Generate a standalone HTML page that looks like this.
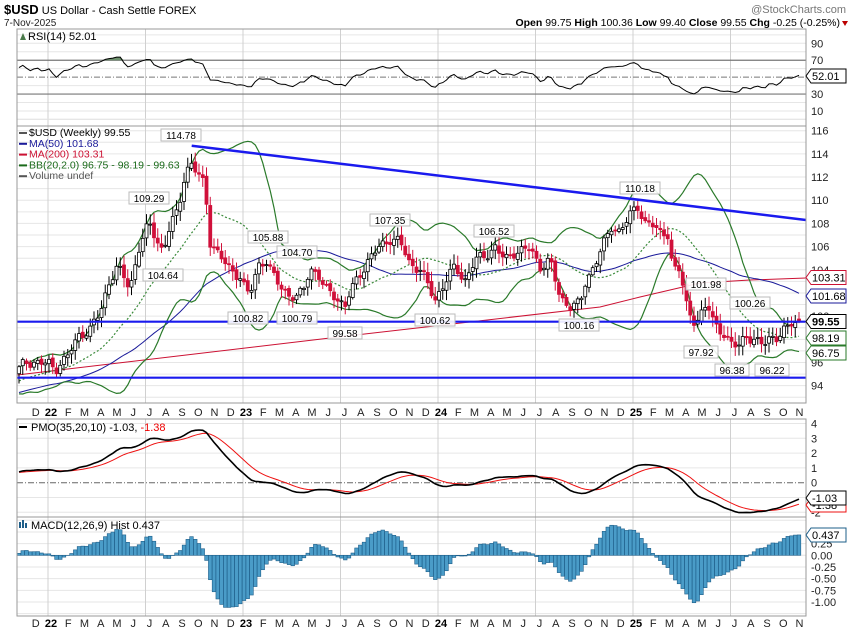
<!DOCTYPE html>
<html><head><meta charset="utf-8">
<style>
html,body{margin:0;padding:0;background:#fff;}
svg{display:block;font-family:"Liberation Sans",sans-serif;}
</style></head>
<body>
<svg id="c" width="850" height="633" xmlns="http://www.w3.org/2000/svg"></svg>
<script>
const S=document.getElementById('c');
let h='';
const L=17,R=806;
const yP=p=>130.7+(116-p)*11.59;
const yR=v=>43.3+(90-v)*0.846;
const yPMO=v=>482.7-14.8*v;
const yM=v=>555.3-46.7*v;
const N=209,X0=19,DX=3.75;
const xi=i=>X0+i*DX;
const wp=[[17,95.3],[25,95.9],[35,96.1],[48,95.9],[55,95.3],[60,96],[68,96.6],[80,98.4],[90,98.9],[100,100.2],[110,103.2],[117,104.3],[123,103.4],[130,102.4],[140,106.3],[149,107.9],[155,106.9],[163,105.6],[170,107.8],[178,109],[185,112.4],[191,113.2],[198,112.2],[205,111.2],[210,106.5],[215,105.8],[222,104.9],[230,104],[240,103.5],[247,101.9],[252,102.4],[258,104.4],[266,104.9],[272,103.6],[280,102.6],[290,101.8],[297,101.6],[303,102.1],[310,104.2],[318,103.6],[325,102.3],[335,101.8],[345,100.8],[350,102],[360,103.7],[370,105],[380,106],[390,106.7],[400,106.4],[410,104.5],[420,104.1],[428,102.6],[435,101.4],[445,103],[455,104.2],[465,103.1],[475,104.8],[485,105.2],[495,106],[505,104.8],[515,105.6],[530,105.8],[540,104.3],[550,104.8],[560,101.6],[570,100.9],[580,101],[585,102.8],[595,104.6],[605,106.4],[612,107.8],[618,107.3],[625,108],[632,108.9],[638,109.5],[645,108.1],[652,107.9],[660,107.1],[668,107.2],[673,104],[680,103.9],[688,100.4],[695,99.6],[700,99.9],[708,100.9],[715,99.4],[725,98.3],[730,97.4],[738,97.6],[745,98.4],[752,97.8],[760,97.6],[770,98.3],[778,97.9],[785,98.8],[792,99.7],[800,99.55]];
function interp(x){for(let k=0;k<wp.length-1;k++){if(x<=wp[k+1][0]){const t=(x-wp[k][0])/(wp[k+1][0]-wp[k][0]);return wp[k][1]+t*(wp[k+1][1]-wp[k][1]);}}return wp[wp.length-1][1];}
const PRE=80;let all=[];
for(let i=0;i<PRE;i++){all.push(89.8+5.2*i/PRE+0.35*Math.sin(i*1.3)+0.2*Math.sin(i*0.7));}
const c=[],o=[],hi=[],lo=[];
for(let i=0;i<N;i++){let v=interp(xi(i))+0.32*Math.sin(i*1.7)+0.22*Math.sin(i*0.93+1);if(i==N-1)v=99.55;c.push(v);}
for(let i=0;i<N;i++){const pc=i?c[i-1]:all[PRE-1];o.push(pc+0.12*Math.sin(i*2.3));const n1=Math.abs(Math.sin(i*3.1)),n2=Math.abs(Math.cos(i*2.7));hi.push(Math.max(o[i],c[i])+0.15+0.7*n1);lo.push(Math.min(o[i],c[i])-0.15-0.7*n2);}
o[N-1]=99.75;hi[N-1]=100.36;lo[N-1]=99.4;
all=all.concat(c);
const A=all.length;
function sma(a,n,i){let s=0;for(let k=i-n+1;k<=i;k++)s+=a[k];return s/n;}
function ema(a,alpha){const r=[a[0]];for(let i=1;i<a.length;i++)r.push(r[i-1]+alpha*(a[i]-r[i-1]));return r;}
const ma50=[],bbm=[],bbu=[],bbl=[];
for(let i=PRE;i<A;i++){ma50.push(sma(all,50,i));const m=sma(all,20,i);let s=0;for(let k=i-19;k<=i;k++)s+=(all[k]-m)**2;const sd=Math.sqrt(s/20);bbm.push(m);bbu.push(m+2*sd);bbl.push(m-2*sd);}
const rsi=[];{let ag=0,al=0;for(let i=1;i<=14;i++){const d=all[i]-all[i-1];if(d>0)ag+=d;else al-=d;}ag/=14;al/=14;for(let i=15;i<A;i++){const d=all[i]-all[i-1];ag=(ag*13+Math.max(d,0))/14;al=(al*13+Math.max(-d,0))/14;if(i>=PRE)rsi.push(50+(100-100/(1+ag/al)-50)*0.62);}}
rsi[rsi.length-1]=52.01;
const roc=[0];for(let i=1;i<A;i++)roc.push((all[i]/all[i-1]-1)*100);
const s1=ema(roc,2/35).map(v=>v*10);const pmo=ema(s1,2/20);const pms=ema(pmo,2/10);
const e12=ema(all,2/13),e26=ema(all,2/27);const mac=e12.map((v,i)=>v-e26[i]);const sig=ema(mac,0.2);const hist=mac.map((v,i)=>v-sig[i]);
const P=a=>a.slice(PRE);
const pl=(arr,fy,col,w,extra)=>{let d='';arr.forEach((v,i)=>{d+=(i?'L':'M')+xi(i).toFixed(1)+','+fy(v).toFixed(1);});return `<path d="${d}" fill="none" stroke="${col}" stroke-width="${w}" ${extra||''}/>`;};
h+=`<defs><clipPath id="cr"><rect x="${L}" y="29" width="${R-L}" height="97"/></clipPath><clipPath id="cp"><rect x="${L}" y="126" width="${R-L}" height="277"/></clipPath><clipPath id="cm"><rect x="${L}" y="419" width="${R-L}" height="98"/></clipPath><clipPath id="ch"><rect x="${L}" y="517" width="${R-L}" height="99"/></clipPath></defs>`;
const mx=m=>48+m*16.25;
function vgrid(y1,y2){let s='';for(let m=-6;m<=48;m+=6){const x=mx(m);if(x>L&&x<R)s+=`<line x1="${x}" y1="${y1}" x2="${x}" y2="${y2}" stroke="#d0d0d0"/>`;}return s;}
for(let v=0;v<=100;v+=10){if(v==30||v==70||v==50)continue;h+=`<line x1="${L}" x2="${R}" y1="${yR(v)}" y2="${yR(v)}" stroke="#e6e6e6"/>`;}
h+=vgrid(29,126);
h+=`<line x1="${L}" x2="${R}" y1="${yR(70)}" y2="${yR(70)}" stroke="#777" stroke-width="1.2"/><line x1="${L}" x2="${R}" y1="${yR(30)}" y2="${yR(30)}" stroke="#777" stroke-width="1.2"/><line x1="${L}" x2="${R}" y1="${yR(50)}" y2="${yR(50)}" stroke="#777" stroke-dasharray="6,2,1,2"/>`;
const R_=rsi;
let fd='M'+xi(0)+','+yR(70);R_.forEach((v,i)=>{fd+='L'+xi(i).toFixed(1)+','+yR(Math.max(v,70)).toFixed(1);});fd+='L'+xi(R_.length-1)+','+yR(70)+'Z';
h+=`<g clip-path="url(#cr)"><path d="${fd}" fill="#6b8f6b"/>${pl(R_,yR,'#000',1)}</g>`;
for(let p=93;p<=117;p++)h+=`<line x1="${L}" x2="${R}" y1="${yP(p)}" y2="${yP(p)}" stroke="#e6e6e6"/>`;
h+=vgrid(126,403);
h+='<g clip-path="url(#cp)">';
const ma200=[[17,375],[330,338],[600,307],[640,297],[700,283],[750,280],[806,278]];
h+=`<polyline points="${ma200.map(p=>p.join(',')).join(' ')}" fill="none" stroke="#cc1133" stroke-width="1"/>`;
h+=pl(ma50,yP,'#1a1a9a',1);
h+=pl(bbu,yP,'#2a7a2a',1.2)+pl(bbl,yP,'#2a7a2a',1.2)+pl(bbm,yP,'#3a8a3a',1.2,'stroke-dasharray="2,2"');
for(let i=0;i<N;i++){const x=xi(i);const up=c[i]>=o[i];const col=up?'#000':'#d0103a';h+=`<line x1="${x}" x2="${x}" y1="${yP(hi[i])}" y2="${yP(lo[i])}" stroke="${col}"/>`;const yt=yP(Math.max(o[i],c[i])),yb=yP(Math.min(o[i],c[i]));h+=`<rect x="${x-1.5}" y="${yt}" width="3" height="${Math.max(yb-yt,1)}" fill="${up?'#fff':'#d0103a'}" stroke="${col}" stroke-width="0.8"/>`;}
h+=`<line x1="191.7" y1="145.7" x2="${R}" y2="220" stroke="#1a1aee" stroke-width="2.5"/>`;
h+=`<line x1="${L}" x2="${R}" y1="321.7" y2="321.7" stroke="#1a1aee" stroke-width="2.2"/><line x1="${L}" x2="${R}" y1="377.7" y2="377.7" stroke="#1a1aee" stroke-width="2.2"/>`;
h+='</g>';
const ann=[['114.78',181,135],['109.29',149,198],['104.64',163,275],['105.88',268,237],['104.70',297,252],['100.82',248,318],['100.79',297,318],['99.58',345,333],['107.35',390,220],['100.62',435,320],['106.52',494,231],['100.16',579,325],['110.18',640,188],['101.98',706,284],['97.92',701,352],['100.26',750,303],['96.38',732,370],['96.22',772,370]];
ann.forEach(a=>{const w=a[0].length*6+4;h+=`<rect x="${a[1]-w/2}" y="${a[2]-6}" width="${w}" height="12" fill="#fff" fill-opacity="0.9" stroke="#bbb"/><text x="${a[1]}" y="${a[2]+4}" font-size="10" text-anchor="middle" fill="#000">${a[0]}</text>`;});
for(let v=-2;v<=4;v++){if(v==0)continue;h+=`<line x1="${L}" x2="${R}" y1="${yPMO(v)}" y2="${yPMO(v)}" stroke="#e6e6e6"/>`;}
h+=vgrid(419,517);
h+=`<line x1="${L}" x2="${R}" y1="${yPMO(0)}" y2="${yPMO(0)}" stroke="#666" stroke-dasharray="6,2,1,2"/>`;
h+=`<g clip-path="url(#cm)">${pl(P(pms),yPMO,'#ee1111',1)}${pl(P(pmo),yPMO,'#000',1.6)}</g>`;
for(let v=-1.25;v<=0.75;v+=0.25)h+=`<line x1="${L}" x2="${R}" y1="${yM(v)}" y2="${yM(v)}" stroke="#e6e6e6"/>`;
h+=vgrid(517,616);
h+='<g clip-path="url(#ch)">';
P(hist).forEach((v,i)=>{const x=xi(i);const y0=yM(0),y1=yM(v);h+=`<rect x="${x-1.8}" y="${Math.min(y0,y1)}" width="3.6" height="${Math.abs(y1-y0)}" fill="#4a9cc8" stroke="#1e5f8a" stroke-width="0.6"/>`;});
h+='</g>';
[[29,126],[126,403],[419,517],[517,616]].forEach(p=>{h+=`<rect x="${L}" y="${p[0]}" width="${R-L}" height="${p[1]-p[0]}" fill="none" stroke="#999"/>`;});
const ML=['J','F','M','A','M','J','J','A','S','O','N','D'];
function xl(y){let s='';for(let m=-1;m<=46;m++){const x=mx(m)+4;const mm=((m%12)+12)%12;if(mm==0){s+=`<text x="${x-1}" y="${y}" font-size="11" font-weight="bold" text-anchor="middle">${22+m/12}</text>`;}else s+=`<text x="${x}" y="${y}" font-size="11" text-anchor="middle" fill="#222">${ML[mm]}</text>`;}return s;}
h+=xl(416)+xl(627);
const rl=(t,y)=>`<text x="811" y="${y+4}" font-size="11" fill="#222">${t}</text>`;
[90,70,30,10].forEach(v=>h+=rl(v,yR(v)));
for(let p=94;p<=116;p+=2)h+=rl(p,yP(p));
[4,3,2,1,0,-2].forEach(v=>h+=rl(v,yPMO(v)));
['0.50','0.25','0.00','-0.25','-0.50','-0.75','-1.00'].forEach(t=>h+=rl(t,yM(parseFloat(t))));
const box=(t,y,col,bold)=>`<path d="M806,${y} L811,${y-7} L846,${y-7} L846,${y+7} L811,${y+7} Z" fill="#fff" stroke="${col}"/><text x="812" y="${y+4}" font-size="11" ${bold?'font-weight="bold"':''} fill="#000">${t}</text>`;
h+=box('52.01',76,'#000');
h+=box('103.31',277.5,'#cc1133')+box('101.68',296,'#1a1a9a')+box('99.55',321.5,'#000',1)+box('98.19',338,'#2a7a2a')+box('96.75',353,'#2a7a2a');
h+=box('-1.38',505,'#ee1111')+box('-1.03',498,'#000');
h+=box('0.437',535,'#1e5f8a');
h+=`<text x="4" y="14" font-size="13"><tspan font-weight="bold">$USD</tspan><tspan font-size="11"> US Dollar - Cash Settle FOREX</tspan></text>`;
h+=`<text x="4" y="26" font-size="10" fill="#222">7-Nov-2025</text>`;
h+=`<text x="846" y="13" font-size="11" text-anchor="end" fill="#777">@StockCharts.com</text>`;
h+=`<text x="840" y="26" font-size="10.5" text-anchor="end"><tspan font-weight="bold">Open</tspan> 99.75 <tspan font-weight="bold">High</tspan> 100.36 <tspan font-weight="bold">Low</tspan> 99.40 <tspan font-weight="bold">Close</tspan> 99.55 <tspan font-weight="bold">Chg</tspan> -0.25 (-0.25%)</text><path d="M842,21 L848,21 L845,26Z" fill="#b00"/>`;
h+=`<path d="M20,40 L23,33 L26,40Z" fill="#4a7a4a"/><text x="28" y="40" font-size="11">RSI(14) 52.01</text>`;
const lg=[['$USD (Weekly) 99.55','#000','#555'],['MA(50) 101.68','#1a1a9a','#1a1a9a'],['MA(200) 103.31','#cc1133','#cc1133'],['BB(20,2.0) 96.75 - 98.19 - 99.63','#1a6a1a','#1a6a1a'],['Volume undef','#555','#555']];
lg.forEach((l,k)=>{const y=135+k*10.8;h+=`<rect x="19" y="${y-3}" width="8" height="2" fill="${l[2]}"/><text x="29" y="${y+1}" font-size="10.5" fill="${l[1]}">${l[0]}</text>`;});
h+=`<rect x="19" y="426" width="8" height="2" fill="#000"/><text x="31" y="431" font-size="11">PMO(35,20,10) -1.03, <tspan fill="#e00">-1.38</tspan></text>`;
h+=`<rect x="19" y="522" width="2" height="6" fill="#1e5f8a"/><rect x="22" y="520" width="2" height="8" fill="#1e5f8a"/><rect x="25" y="523" width="2" height="5" fill="#1e5f8a"/><text x="31" y="529" font-size="11">MACD(12,26,9) Hist 0.437</text>`;
S.innerHTML=h;
</script>
</body></html>
